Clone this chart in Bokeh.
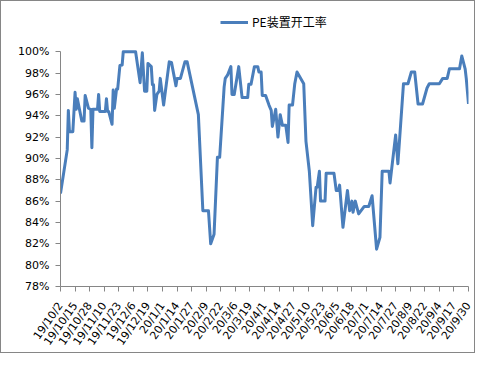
import math
import pandas as pd
from bokeh.plotting import figure
from bokeh.models import Range1d, FixedTicker, Legend, LegendItem
from bokeh.embed import file_html
from bokeh.resources import INLINE

series_name = "PE装置开工率"

dates = [
    "2019-10-02", "2019-10-08", "2019-10-09", "2019-10-10", "2019-10-13", "2019-10-15",
    "2019-10-16", "2019-10-17", "2019-10-21", "2019-10-23", "2019-10-24", "2019-10-27",
    "2019-10-29", "2019-10-30", "2019-10-31", "2019-11-04", "2019-11-05", "2019-11-06",
    "2019-11-11", "2019-11-12", "2019-11-13", "2019-11-14", "2019-11-17", "2019-11-18",
    "2019-11-19", "2019-11-21", "2019-11-22", "2019-11-24", "2019-11-26", "2019-11-27",
    "2019-12-08", "2019-12-12", "2019-12-14", "2019-12-16", "2019-12-18", "2019-12-19",
    "2019-12-22", "2019-12-23", "2019-12-24", "2019-12-25", "2019-12-27", "2019-12-29",
    "2019-12-30", "2020-01-02", "2020-01-07", "2020-01-09", "2020-01-13", "2020-01-14",
    "2020-01-17", "2020-01-21", "2020-01-23", "2020-02-02", "2020-02-06", "2020-02-11",
    "2020-02-13", "2020-02-16", "2020-02-19", "2020-02-21", "2020-02-25", "2020-02-26",
    "2020-02-28", "2020-03-02", "2020-03-03", "2020-03-05", "2020-03-09", "2020-03-12",
    "2020-03-17", "2020-03-18", "2020-03-20", "2020-03-23", "2020-03-26", "2020-03-27",
    "2020-03-29", "2020-03-30", "2020-04-02", "2020-04-05", "2020-04-07", "2020-04-08",
    "2020-04-11", "2020-04-13", "2020-04-15", "2020-04-17", "2020-04-20", "2020-04-22",
    "2020-04-23", "2020-04-26", "2020-04-28", "2020-04-30", "2020-05-06", "2020-05-08",
    "2020-05-11", "2020-05-14", "2020-05-17", "2020-05-18", "2020-05-20", "2020-05-21",
    "2020-05-25", "2020-05-26", "2020-06-02", "2020-06-04", "2020-06-06", "2020-06-07",
    "2020-06-10", "2020-06-14", "2020-06-16", "2020-06-18", "2020-06-19", "2020-06-21",
    "2020-06-24", "2020-06-29", "2020-07-03", "2020-07-06", "2020-07-10", "2020-07-13",
    "2020-07-15", "2020-07-21", "2020-07-22", "2020-07-27", "2020-07-29", "2020-08-03",
    "2020-08-07", "2020-08-10", "2020-08-13", "2020-08-16", "2020-08-20", "2020-08-24",
    "2020-08-26", "2020-09-04", "2020-09-07", "2020-09-11", "2020-09-13", "2020-09-22",
    "2020-09-24", "2020-09-27", "2020-09-28", "2020-09-30",
]

rate = [
    86.7, 90.8, 94.5, 92.5, 92.5, 96.2,
    94.6, 95.6, 93.5, 93.5, 95.9, 94.7,
    94.6, 91.0, 94.6, 94.6, 96.0, 94.4,
    94.4, 95.6, 94.4, 94.4, 93.2, 96.4,
    94.7, 96.5, 96.5, 98.7, 98.75, 100.0,
    100.0, 97.1, 99.9, 96.3, 96.3, 98.9,
    98.6, 96.9, 96.9, 94.5, 96.0, 96.3,
    97.5, 95.0, 99.05, 99.0, 96.8, 97.5,
    97.5, 99.05, 99.05, 94.1, 85.1, 85.1,
    82.0, 82.9, 90.1, 90.1, 96.7, 97.5,
    97.8, 98.6, 96.0, 96.0, 98.6, 95.7,
    95.7, 96.95, 96.95, 98.6, 98.6, 98.1,
    98.1, 95.9, 95.9, 95.0, 94.5, 93.0,
    94.6, 92.0, 94.1, 93.1, 93.1, 91.5,
    95.0, 95.0, 97.0, 98.1, 97.0, 91.6,
    88.8, 83.7, 87.3, 87.3, 88.8, 86.0,
    86.0, 88.6, 88.6, 87.0, 87.0, 87.5,
    83.55, 87.0, 85.1, 86.0, 84.95, 86.0,
    84.8, 85.5, 85.5, 86.5, 81.5, 82.6,
    88.8, 88.8, 87.7, 92.2, 89.5, 97.0,
    97.0, 98.1, 98.1, 95.1, 95.1, 96.6,
    97.0, 97.0, 97.5, 97.5, 98.4, 98.4,
    99.6, 98.4, 97.5, 95.1,
]

tick_labels = [
    "19/10/2", "19/10/15", "19/10/28", "19/11/10", "19/11/23", "19/12/6",
    "19/12/19", "20/1/1", "20/1/14", "20/1/27", "20/2/9", "20/2/22",
    "20/3/6", "20/3/19", "20/4/1", "20/4/14", "20/4/27", "20/5/10",
    "20/5/23", "20/6/5", "20/6/18", "20/7/1", "20/7/14", "20/7/27",
    "20/8/9", "20/8/22", "20/9/4", "20/9/17", "20/9/30",
]

y_ticks = [78, 80, 82, 84, 86, 88, 90, 92, 94, 96, 98, 100]

LINE_COLOR = "#4a7ebb"
AXIS_COLOR = "#868686"
FONT = "DejaVu Sans"

start = pd.Timestamp(dates[0])
x = [(pd.Timestamp(d) - start).days for d in dates]


def label_to_day(lab):
    yy, mm, dd = lab.split("/")
    return (pd.Timestamp(2000 + int(yy), int(mm), int(dd)) - start).days


tick_pos = [label_to_day(t) for t in tick_labels]

# frame spans canvas y 8..287; 100% sits at canvas y 50.5
y_top = y_ticks[-1] + (50.5 - 8) / ((287 - 50.5) / (y_ticks[-1] - y_ticks[0]))

p = figure(
    width=475, height=353,
    output_backend="svg", toolbar_location=None,
    x_range=Range1d(tick_pos[0], tick_pos[-1]),
    y_range=Range1d(y_ticks[0], y_top),
    min_border_left=59, min_border_right=8,
    min_border_top=8, min_border_bottom=66,
)
p.styles = {"border": "1px solid #868686"}
p.outline_line_color = None
p.xgrid.visible = False
p.ygrid.visible = False
p.background_fill_color = "white"
p.border_fill_color = "white"

r = p.line(x, rate, line_color=LINE_COLOR, line_width=3, line_join="round")

p.xaxis.ticker = FixedTicker(ticks=tick_pos)
p.xaxis.major_label_overrides = {pos: lab for pos, lab in zip(tick_pos, tick_labels)}
p.xaxis.major_label_orientation = math.radians(55)
p.yaxis.ticker = FixedTicker(ticks=y_ticks)
p.yaxis.major_label_overrides = {v: f"{v}%" for v in y_ticks}
p.yaxis.bounds = (y_ticks[0], y_ticks[-1])

for ax in (p.xaxis[0], p.yaxis[0]):
    ax.axis_line_color = AXIS_COLOR
    ax.major_tick_line_color = AXIS_COLOR
    ax.minor_tick_line_color = None
    ax.major_tick_out = 5
    ax.major_tick_in = 0
    ax.major_label_text_font = FONT
    ax.major_label_text_font_size = "11px"
    ax.major_label_text_color = "#000000"
p.yaxis.major_label_standoff = 6
p.xaxis.major_label_standoff = 12

legend = Legend(
    items=[LegendItem(label=series_name, renderers=[r])],
    location=(160, 256),
    orientation="horizontal",
    border_line_color=None,
    background_fill_alpha=0,
    padding=0, margin=0, spacing=0,
    glyph_width=28, glyph_height=14, label_height=14,
    label_standoff=4,
    label_text_font="Noto Sans CJK SC",
    label_text_font_size="12px",
    label_text_color="#000000",
)
p.add_layout(legend, "center")

open("out.html", "w").write(file_html(p, INLINE))
